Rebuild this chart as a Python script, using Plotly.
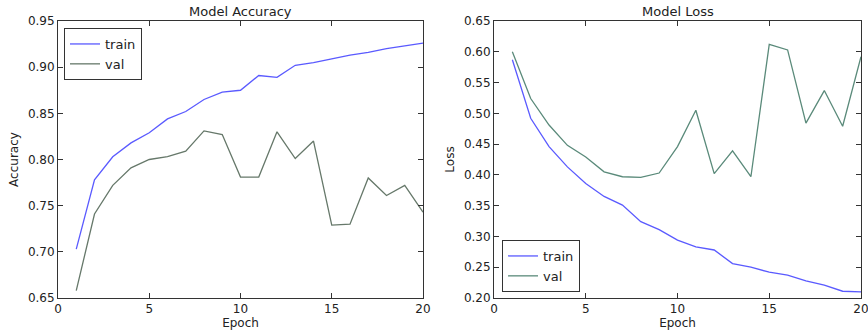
import plotly.graph_objects as go

epochs = list(range(1, 21))
acc_train = [0.703, 0.778, 0.803, 0.818, 0.829, 0.844, 0.852, 0.865, 0.873, 0.875,
             0.891, 0.889, 0.902, 0.905, 0.909, 0.913, 0.916, 0.920, 0.923, 0.926]
acc_val = [0.658, 0.741, 0.772, 0.791, 0.800, 0.803, 0.809, 0.831, 0.827, 0.781,
           0.781, 0.830, 0.801, 0.820, 0.729, 0.730, 0.780, 0.761, 0.772, 0.743]
loss_train = [0.587, 0.492, 0.446, 0.413, 0.386, 0.365, 0.351, 0.324, 0.311, 0.294,
              0.283, 0.278, 0.256, 0.250, 0.242, 0.237, 0.228, 0.221, 0.211, 0.210]
loss_val = [0.600, 0.524, 0.481, 0.448, 0.429, 0.405, 0.397, 0.396, 0.403, 0.446,
            0.505, 0.402, 0.439, 0.397, 0.612, 0.603, 0.484, 0.537, 0.479, 0.592]

TRAIN_C = "#5a5aff"
VAL_C = "#66786a"
VAL_C2 = "#5a8a7a"
FONT = "DejaVu Sans"
TXT = "#222222"

fig = go.Figure()
fig.add_trace(go.Scatter(x=epochs, y=acc_train, mode="lines", name="train",
                         line=dict(color=TRAIN_C, width=1.3), xaxis="x", yaxis="y", legend="legend"))
fig.add_trace(go.Scatter(x=epochs, y=acc_val, mode="lines", name="val",
                         line=dict(color=VAL_C, width=1.3), xaxis="x", yaxis="y", legend="legend"))
fig.add_trace(go.Scatter(x=epochs, y=loss_train, mode="lines", name="train",
                         line=dict(color=TRAIN_C, width=1.3), xaxis="x2", yaxis="y2", legend="legend2"))
fig.add_trace(go.Scatter(x=epochs, y=loss_val, mode="lines", name="val",
                         line=dict(color=VAL_C2, width=1.3), xaxis="x2", yaxis="y2", legend="legend2"))

W, H = 868, 335
def px(x): return x / W
def py(y): return 1 - y / H

axis_common = dict(showline=True, linecolor="#333333", linewidth=1, mirror="ticks",
                   ticks="inside", ticklen=5, tickcolor="#333333", showgrid=False,
                   zeroline=False, automargin=False, ticklabeloverflow="allow",
                   tickfont=dict(family=FONT, size=12, color=TXT))

fig.update_layout(
    width=W, height=H,
    margin=dict(l=0, r=0, t=0, b=0),
    paper_bgcolor="white", plot_bgcolor="white",
    font=dict(family=FONT, size=12, color=TXT),
    xaxis=dict(domain=[px(58), px(423)], range=[0, 20], tick0=0, dtick=5, anchor="y",
               title=dict(text="Epoch", standoff=2, font=dict(size=12)), **axis_common),
    yaxis=dict(domain=[py(298), py(21)], range=[0.65, 0.95], tick0=0.65, dtick=0.05,
               tickformat=".2f", anchor="x",
               title=dict(text="Accuracy", standoff=6, font=dict(size=12)), **axis_common),
    xaxis2=dict(domain=[px(494), px(861)], range=[0, 20], tick0=0, dtick=5, anchor="y2",
                title=dict(text="Epoch", standoff=2, font=dict(size=12)), **axis_common),
    yaxis2=dict(domain=[py(298), py(21)], range=[0.20, 0.65], tick0=0.2, dtick=0.05,
                tickformat=".2f", anchor="x2",
                title=dict(text="Loss", standoff=6, font=dict(size=12)), **axis_common),
    legend=dict(x=px(64), y=py(28), xanchor="left", yanchor="top",
                bordercolor="#333333", borderwidth=1, bgcolor="white",
                font=dict(family=FONT, size=13, color=TXT), itemwidth=30,
                tracegroupgap=0),
    legend2=dict(x=px(502), y=py(292), xanchor="left", yanchor="bottom",
                 bordercolor="#333333", borderwidth=1, bgcolor="white",
                 font=dict(family=FONT, size=13, color=TXT), itemwidth=30,
                 tracegroupgap=0),
    annotations=[
        dict(text="Model Accuracy", x=(px(58) + px(423)) / 2, y=py(11), xref="paper", yref="paper",
             xanchor="center", yanchor="middle",
             showarrow=False, font=dict(family=FONT, size=13, color=TXT)),
        dict(text="Model Loss", x=(px(494) + px(861)) / 2, y=py(11), xref="paper", yref="paper",
             xanchor="center", yanchor="middle",
             showarrow=False, font=dict(family=FONT, size=13, color=TXT)),
    ],
)

fig.write_html("out.html", config={"displayModeBar": False},
               post_script="document.body.style.margin='0px';")
